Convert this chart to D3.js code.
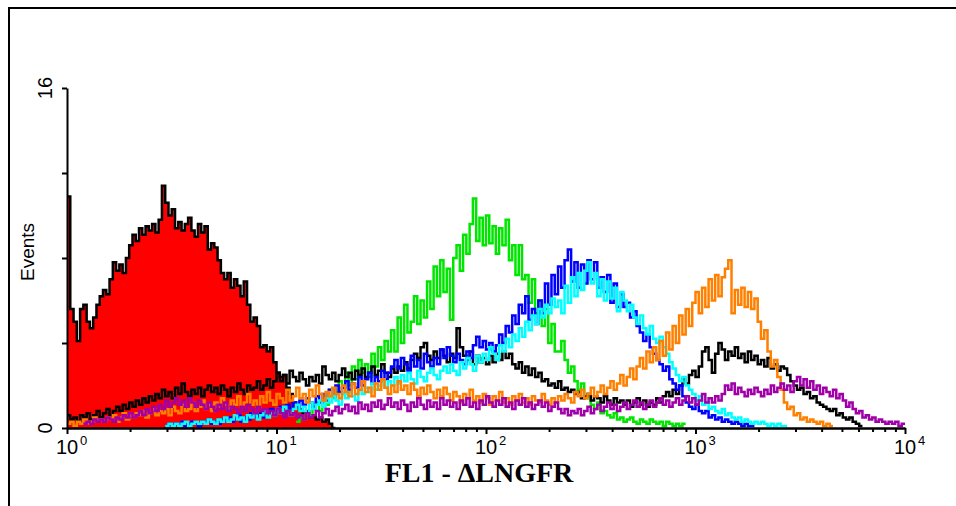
<!DOCTYPE html>
<html>
<head>
<meta charset="utf-8">
<script src="https://cdn.jsdelivr.net/npm/d3@7"></script>
<style>
  body { margin: 0; background: #fff; }
</style>
</head>
<body>
<div id="chart"></div>
<script>
// histogram channels: 64 bins per decade, 10^0 .. 10^4
const binsPerDecade = 64;

const yTicks = [0, 4, 8, 12, 16];
const yLabels = [0, 16];
const xDecades = [0, 1, 2, 3, 4];

// control (filled red)
const redStart = 0;
const redCounts = [10.9,5.6,5.0,4.1,5.6,5.8,5.0,4.7,5.2,5.8,
  6.2,6.5,6.3,7.0,7.8,7.4,7.7,7.3,8.0,8.6,
  9.1,8.8,9.4,9.1,9.5,9.3,9.6,9.2,9.8,11.4,
  10.6,10.0,10.3,9.4,9.7,9.3,9.6,9.9,9.3,9.0,
  9.6,9.2,9.5,8.4,8.7,8.5,7.9,7.3,7.0,7.3,
  6.6,7.0,6.7,6.2,6.9,5.8,5.0,5.2,4.8,3.8,
  3.9,3.6,3.8,3.1,2.6,2.4,2.5,1.9,1.6,1.2,
  1.0,0.9,0.7,0.8,0.5,0.6,0.4,0.5,0.3,0.4,
  0.2,0];

const blackStart = 0;
const blackCounts = [0.6,0.4,0.5,0.3,0.6,0.5,0.7,0.4,0.6,0.8,
  0.5,0.7,0.9,0.6,0.8,1.0,0.8,1.1,0.9,1.2,
  1.0,1.3,1.1,1.4,1.2,1.5,1.3,1.6,1.4,1.8,
  1.5,1.7,1.4,1.9,1.6,2.1,1.7,1.5,1.8,1.6,
  1.9,1.5,1.8,2.0,1.7,1.9,1.6,2.0,1.8,1.5,
  1.9,1.7,2.1,1.8,1.6,2.0,1.8,1.9,2.2,1.8,
  2.0,2.3,1.9,2.2,2.6,2.2,2.5,2.1,2.7,2.4,
  2.2,2.6,2.3,2.0,2.4,2.2,2.5,2.1,2.9,2.5,
  2.3,2.6,2.2,2.5,2.8,2.4,2.6,2.3,2.7,2.5,
  2.8,2.4,2.6,2.9,2.5,2.7,3.0,2.6,2.4,2.8,
  2.6,2.9,2.7,3.1,2.8,3.2,3.5,3.3,3.8,4.0,
  3.4,3.2,3.6,3.3,3.7,3.4,3.1,3.5,3.3,4.7,
  3.8,3.4,3.2,3.6,3.0,3.4,3.1,3.3,3.0,3.4,
  3.1,3.5,3.2,3.6,3.3,3.5,3.0,2.8,3.1,2.6,
  2.9,2.5,2.8,2.4,2.6,2.2,2.3,2.0,2.1,1.9,
  2.2,1.8,1.9,1.7,1.8,1.6,1.7,1.4,1.5,1.6,
  1.3,1.5,1.4,1.2,1.5,1.3,1.1,1.4,1.2,1.3,
  1.1,1.3,1.0,1.2,1.4,1.1,1.3,1.0,1.2,1.1,
  1.4,1.2,1.5,1.7,1.5,1.8,1.6,2.0,2.3,2.1,
  2.5,2.7,2.4,2.9,3.6,3.8,3.2,2.6,3.5,4.0,
  3.7,3.2,3.6,3.4,3.8,3.3,3.5,3.1,3.6,3.2,
  3.4,3.0,3.2,2.9,3.3,2.8,3.0,2.7,2.9,2.8,
  2.5,2.2,2.0,1.8,1.9,1.6,1.7,1.4,1.5,1.2,
  1.1,1.0,0.9,0.8,0.9,0.6,0.7,0.5,0.4,0.5,
  0.3,0.2,0.1];

const greenStart = 70;
const greenCounts = [0.3,0.5,0.4,0.7,0.6,0.9,1.2,0.8,1.5,1.1,
  1.8,1.4,1.7,2.2,1.6,2.6,2.0,2.9,2.3,3.2,
  2.6,3.0,2.4,3.5,2.9,3.8,3.2,4.1,3.6,4.6,
  3.6,5.2,4.0,5.8,4.5,5.0,6.2,4.9,6.0,5.2,
  6.9,5.6,7.6,6.2,7.9,6.4,7.5,5.1,8.0,8.6,
  7.4,9.1,8.2,9.6,10.8,8.8,9.9,8.6,10.0,8.7,
  9.5,8.2,9.4,8.6,9.8,7.9,8.6,7.2,8.6,7.0,
  7.2,5.9,7.0,5.4,6.0,4.8,5.6,4.0,4.9,3.6,
  3.6,4.1,3.2,2.6,2.9,2.2,1.8,2.1,1.4,1.6,
  1.1,0.9,1.2,0.7,0.8,0.6,0.5,0.7,0.4,0.5,
  0.3,0.4,0.5,0.3,0.2,0.4,0.3,0.2,0.4,0.3,
  0.2,0.3,0.1,0.3,0.2,0.1,0.2,0.1,0.2];

const blueStart = 30;
const blueCounts = [0.1,0.2,0.1,0.2,0.1,0.3,0.1,0.2,0.3,0.2,
  0.1,0.3,0.2,0.4,0.2,0.3,0.2,0.4,0.3,0.5,
  0.3,0.4,0.6,0.3,0.5,0.4,0.7,0.5,0.6,0.8,
  0.5,0.7,0.9,0.6,0.8,1.0,0.7,1.1,0.9,1.2,
  1.0,1.3,1.1,1.4,1.2,1.0,1.5,1.2,1.6,1.3,
  1.8,1.5,2.0,1.7,1.9,2.2,1.8,2.1,1.9,2.4,
  2.0,2.3,2.6,2.1,2.4,2.2,2.7,2.3,2.6,2.9,
  3.2,2.8,3.3,3.0,2.7,3.4,2.9,3.2,2.8,3.5,
  3.1,2.9,3.3,3.0,3.7,3.3,3.8,3.4,3.1,3.5,
  3.2,3.0,3.6,3.3,3.9,4.3,3.8,4.1,3.7,4.0,
  3.6,3.9,4.4,4.0,4.8,4.5,5.3,4.9,5.8,5.4,
  6.2,5.1,5.6,4.9,6.0,5.4,6.8,5.8,7.2,6.3,
  7.6,6.6,7.9,8.4,6.9,7.8,6.6,7.7,6.8,7.9,
  7.0,7.8,6.6,7.1,6.4,7.2,5.9,6.8,5.7,6.3,
  5.7,5.9,5.2,5.5,4.8,4.5,4.1,4.4,3.8,3.5,
  3.2,3.0,2.7,2.9,2.3,2.1,1.8,2.0,1.5,1.2,
  1.0,0.9,1.1,0.8,0.7,0.8,0.5,0.6,0.4,0.5,
  0.3,0.4,0.3,0.2,0.3,0.2,0.1,0.2,0.1,0.1];

const cyanStart = 30;
const cyanCounts = [0.1,0.2,0.1,0.2,0.1,0.2,0.3,0.1,0.2,0.3,
  0.2,0.3,0.2,0.4,0.3,0.2,0.4,0.3,0.5,0.3,
  0.4,0.6,0.4,0.5,0.3,0.6,0.5,0.7,0.4,0.6,
  0.8,0.5,0.7,0.6,0.9,0.7,1.0,0.8,0.6,0.9,
  1.1,0.8,1.0,0.7,1.2,0.9,1.1,1.3,1.0,1.4,
  1.2,1.5,1.3,1.1,1.6,1.4,1.7,1.5,1.3,1.8,
  1.6,1.9,1.7,2.1,1.8,2.0,2.3,1.9,2.2,2.0,
  2.4,2.1,2.5,2.2,2.6,2.3,2.1,2.7,2.4,2.2,
  2.6,2.8,2.5,2.3,2.7,2.9,2.6,3.0,2.7,2.5,
  3.1,2.8,3.3,3.0,2.7,3.4,3.1,3.5,3.2,3.8,
  3.5,3.2,3.9,3.6,4.2,3.8,4.4,4.1,4.7,4.3,
  5.0,4.6,5.3,4.9,5.6,5.2,5.8,5.4,6.1,5.7,
  6.0,5.4,6.7,5.9,7.1,6.2,7.3,6.5,7.4,7.8,
  6.8,7.3,6.2,7.0,6.0,6.9,6.1,6.6,5.5,6.4,
  6.0,5.5,5.8,5.2,4.9,5.3,4.7,4.4,4.8,4.2,
  4.0,4.3,3.8,3.5,3.1,2.8,2.5,2.2,2.4,2.0,
  1.8,1.6,1.3,1.5,1.1,1.2,0.9,1.0,0.8,0.7,
  0.9,0.6,0.7,0.5,0.4,0.5,0.3,0.4,0.3,0.2,
  0.3,0.2,0.3,0.2,0.1,0.2,0.1,0.2,0.1,0.1];

const orangeStart = 0;
const orangeCounts = [0.2,0.3,0.1,0.3,0.2,0.4,0.2,0.3,0.5,0.3,
  0.4,0.3,0.5,0.4,0.6,0.3,0.5,0.7,0.4,0.6,
  0.5,0.7,0.6,0.8,0.5,0.7,0.9,0.6,0.8,0.7,
  0.9,0.6,1.0,0.8,0.7,1.1,0.8,0.9,1.2,0.8,
  1.0,1.3,0.9,1.1,0.8,1.2,1.0,1.4,1.1,0.9,
  1.3,1.1,1.5,1.0,1.2,1.6,1.1,1.3,1.0,1.5,
  1.2,1.7,1.3,1.1,1.6,1.4,1.2,1.8,1.3,1.5,
  1.9,1.4,1.6,1.2,1.8,1.5,2.0,1.6,1.3,1.7,
  1.5,1.9,1.6,1.4,2.0,1.7,1.5,2.1,1.6,1.8,
  2.2,1.7,1.9,1.5,2.1,1.8,2.3,1.9,1.6,2.0,
  1.7,2.2,1.8,2.0,1.6,2.1,1.8,1.5,1.9,1.6,
  2.0,1.7,1.4,1.8,1.5,1.9,1.6,1.3,1.7,1.5,
  1.2,1.6,1.4,1.8,1.3,1.5,1.2,1.6,1.4,1.1,
  1.5,1.3,1.7,1.2,1.4,1.1,1.5,1.3,1.6,1.2,
  1.4,1.1,1.5,1.3,1.2,1.6,1.3,1.1,1.4,1.2,
  1.5,1.3,1.6,1.4,1.2,1.7,1.5,1.8,1.4,1.6,
  1.9,1.5,1.7,2.0,1.6,1.9,2.2,1.8,2.1,2.5,
  2.0,2.4,2.8,2.3,2.9,3.3,2.8,3.6,3.1,3.8,
  3.2,4.1,3.4,4.5,3.7,4.8,4.0,5.3,4.4,5.6,
  4.8,5.9,6.4,5.4,6.6,5.7,7.0,6.0,7.2,6.2,
  7.1,7.5,7.9,5.4,6.5,5.8,6.6,5.7,6.4,5.6,
  6.1,5.0,4.2,4.6,3.6,2.9,3.2,2.4,1.8,1.2,
  0.9,1.0,0.6,0.7,0.4,0.5,0.3,0.4,0.3,0.2,
  0.3,0.1,0.2,0.1];

const purpleStart = 5;
const purpleCounts = [0.2,0.3,0.2,0.4,0.3,
  0.4,0.3,0.5,0.4,0.3,0.5,0.4,0.6,0.5,0.7,
  0.5,0.6,0.8,0.6,0.9,0.7,1.0,0.8,1.1,0.9,
  1.3,1.0,1.2,1.4,1.1,1.3,1.0,1.4,1.2,1.0,
  1.3,1.1,0.9,1.2,1.0,0.8,1.1,0.9,1.2,0.8,
  1.0,0.9,0.7,1.0,0.8,1.1,0.9,0.7,1.0,0.8,
  0.9,0.7,0.8,0.6,0.9,0.7,0.5,0.8,0.6,0.7,
  0.5,0.6,0.4,0.7,0.5,0.6,0.8,0.5,0.7,0.9,
  0.6,0.8,1.0,0.7,0.9,1.1,0.8,1.0,0.7,1.2,
  0.9,1.1,0.8,1.2,1.0,1.3,0.9,1.1,1.4,1.0,
  1.2,0.9,1.3,1.1,0.8,1.2,1.0,1.4,1.1,0.9,
  1.3,1.0,1.2,0.9,1.4,1.1,1.3,1.0,1.2,0.9,
  1.3,1.1,1.4,1.0,1.2,0.9,1.3,1.1,1.5,1.2,
  1.0,1.3,1.1,1.4,1.0,1.2,0.9,1.3,1.1,1.4,
  1.0,1.2,0.9,1.1,1.3,1.0,1.2,0.8,1.0,1.2,
  0.9,0.7,0.9,0.6,0.8,0.7,0.9,0.6,0.8,1.0,
  0.7,0.9,1.1,0.8,1.0,1.2,0.9,1.1,0.8,1.0,
  1.2,0.9,1.1,1.3,1.0,1.2,0.9,1.1,1.3,1.0,
  1.2,1.4,1.1,1.3,1.0,1.2,1.4,1.1,1.3,1.5,
  1.2,1.4,1.1,1.3,1.6,1.2,1.4,1.2,1.5,1.3,
  1.6,2.0,1.8,2.1,1.6,1.9,1.7,1.5,1.8,1.6,
  1.9,1.7,1.5,1.8,1.6,2.0,1.7,1.9,2.1,1.8,
  2.0,1.7,2.2,2.4,2.0,2.3,1.9,2.2,1.8,2.0,
  1.6,1.9,1.7,1.5,1.8,1.4,1.6,1.3,1.0,1.2,
  0.9,0.7,0.8,0.5,0.6,0.4,0.5,0.3,0.4,0.3,
  0.2,0.3,0.2,0.3,0.1,0.2];

const width = 956,
  height = 506;

const svg = d3
  .select("#chart")
  .append("svg")
  .attr("width", width)
  .attr("height", height)
  .style("display", "block");

// frame (top and left edges visible)
svg
  .append("path")
  .attr("d", "M9,506V8H956")
  .attr("fill", "none")
  .attr("stroke", "#000")
  .attr("stroke-width", 2);

const x = d3.scaleLog().domain([1, 1e4]).range([67, 905]);
const y = d3.scaleLinear().domain([0, 16]).range([428, 88]);

function edge(i) {
  return Math.pow(10, i / binsPerDecade);
}

function histPoints(start, counts) {
  const pts = counts.map((c, k) => [edge(start + k), c]);
  pts.push([edge(start + counts.length), counts[counts.length - 1]]);
  return pts;
}

const line = d3
  .line()
  .x((d) => x(d[0]))
  .y((d) => y(d[1]))
  .curve(d3.curveStepAfter);

const area = d3
  .area()
  .x((d) => x(d[0]))
  .y0(y(0))
  .y1((d) => y(d[1]))
  .curve(d3.curveStepAfter);

const plot = svg.append("g");

// control histogram: red fill with black outline
const redPts = histPoints(redStart, redCounts);
plot.append("path").attr("d", area(redPts)).attr("fill", "#ff0000");
plot
  .append("path")
  .attr("d", line(redPts))
  .attr("fill", "none")
  .attr("stroke", "#000")
  .attr("stroke-width", 2.5);

const series = [
  { start: greenStart, counts: greenCounts, color: "#00e600" },
  { start: blackStart, counts: blackCounts, color: "#000000" },
  { start: blueStart, counts: blueCounts, color: "#0000ff" },
  { start: cyanStart, counts: cyanCounts, color: "#00ffff" },
  { start: orangeStart, counts: orangeCounts, color: "#ff8000" },
  { start: purpleStart, counts: purpleCounts, color: "#a000a8" },
];

series.forEach((s) => {
  plot
    .append("path")
    .attr("d", line(histPoints(s.start, s.counts)))
    .attr("fill", "none")
    .attr("stroke", s.color)
    .attr("stroke-width", 2.5);
});

// axes
const minorTicks = [];
for (let d = 0; d < 4; d++) {
  for (let m = 2; m <= 9; m++) minorTicks.push(m * Math.pow(10, d));
}

function styleAxis(g) {
  g.selectAll("path, line").attr("stroke", "#000").attr("stroke-width", 2);
  g.selectAll("text").remove();
}

svg
  .append("g")
  .attr("transform", `translate(0,${y(0)})`)
  .call(
    d3.axisBottom(x).tickValues(minorTicks).tickSize(4).tickSizeOuter(0).tickFormat("")
  )
  .call(styleAxis);

svg
  .append("g")
  .attr("transform", `translate(0,${y(0)})`)
  .call(
    d3
      .axisBottom(x)
      .tickValues(xDecades.map((d) => Math.pow(10, d)))
      .tickSize(6)
      .tickSizeOuter(0)
      .tickFormat("")
  )
  .call(styleAxis);

svg
  .append("g")
  .attr("transform", `translate(${x(1)},0)`)
  .call(d3.axisLeft(y).tickValues(yTicks).tickSize(5).tickSizeOuter(0).tickFormat(""))
  .call(styleAxis);

const sans = "'Liberation Sans', Arial, sans-serif";

// decade labels: 10 with superscript exponent
xDecades.forEach((d) => {
  const px = x(Math.pow(10, d));
  svg
    .append("text")
    .attr("x", px)
    .attr("y", 454)
    .attr("text-anchor", "middle")
    .attr("font-family", sans)
    .attr("font-size", 20)
    .text("10");
  svg
    .append("text")
    .attr("x", px + 13)
    .attr("y", 445)
    .attr("font-family", sans)
    .attr("font-size", 13)
    .text(d);
});

// y labels, rotated
yLabels.forEach((v) => {
  svg
    .append("text")
    .attr("transform", `translate(52,${y(v)}) rotate(-90)`)
    .attr("text-anchor", "middle")
    .attr("font-family", sans)
    .attr("font-size", 20)
    .text(v);
});

svg
  .append("text")
  .attr("transform", `translate(34,252) rotate(-90)`)
  .attr("text-anchor", "middle")
  .attr("font-family", sans)
  .attr("font-size", 19)
  .text("Events");

svg
  .append("text")
  .attr("x", 479)
  .attr("y", 482)
  .attr("text-anchor", "middle")
  .attr("font-family", "'Liberation Serif', 'Times New Roman', serif")
  .attr("font-weight", "bold")
  .attr("font-size", 28)
  .text("FL1 - ΔLNGFR");
</script>
</body>
</html>
